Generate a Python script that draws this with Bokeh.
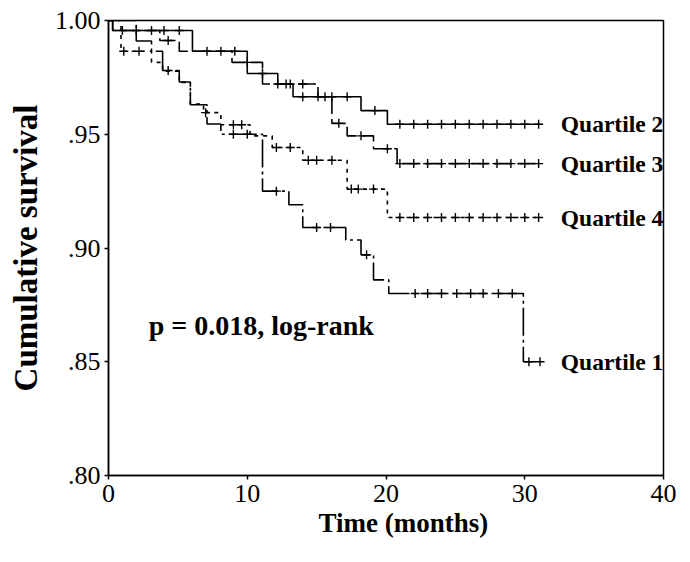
import numpy as np
from bokeh.plotting import figure
from bokeh.models import Range1d, Label, FixedTicker, Title
from bokeh.embed import file_html
from bokeh.resources import INLINE

# ---- data ----
q1_time = [0, 2.0, 3.1, 3.9, 5.1, 5.9, 7.1, 8.1, 11.1, 13.0, 14.0, 17.1, 18.2, 19.1, 20.2, 29.9, 31.1]
q1_surv = [1.000, 0.991, 0.9865, 0.978, 0.973, 0.963, 0.9545, 0.950, 0.925, 0.919, 0.909, 0.9035, 0.897, 0.886, 0.880, 0.850, 0.850]
q1_cens = [4.3, 9.0, 10.0, 12.1, 15.0, 16.0, 18.6, 22.1, 23.0, 24.0, 25.1, 26.1, 27.0, 28.1, 29.1, 30.3, 31.1]

q2_time = [0, 0.3, 6.05, 10.0, 12.2, 13.3, 18.2, 20.1, 31.1]
q2_surv = [1.000, 0.9956, 0.9865, 0.9767, 0.9721, 0.9665, 0.9604, 0.9544, 0.9544]
q2_cens = [1.0, 2.0, 3.1, 4.0, 5.1, 7.1, 8.1, 9.1, 11.1, 12.8, 14.0, 15.1, 16.1, 17.2, 19.2,
           21, 22, 23, 24, 25, 26, 27, 28, 29, 30, 31]

q3_time = [0, 0.3, 3.7, 5.1, 8.9, 11.1, 15.1, 16.1, 17.2, 19.1, 20.8, 31.1]
q3_surv = [1.000, 0.9956, 0.9912, 0.9865, 0.9816, 0.9721, 0.9665, 0.9548, 0.9493, 0.9436, 0.9371, 0.9371]
q3_cens = [4.3, 10.0, 12.2, 13.1, 14.0, 15.6, 16.6, 18.2, 20.1,
           21, 22, 23, 24, 25, 26, 27, 28, 29, 30, 31]

q4_time = [0, 0.9, 3.1, 3.9, 5.1, 5.9, 6.85, 8.1, 10.2, 11.8, 14.0, 17.2, 20.1, 31.1]
q4_surv = [1.000, 0.9865, 0.9816, 0.9777, 0.9728, 0.9633, 0.9595, 0.9542, 0.9493, 0.9442, 0.9386, 0.9259, 0.9134, 0.9134]
q4_cens = [1.1, 2.2, 7.0, 9.0, 9.6, 12.1, 13.1, 14.4, 15.0, 16.1, 17.5, 18.0, 19.1,
           21, 22, 23, 24, 25, 26, 27, 28, 29, 30, 31]

series = [
    ("Quartile 1", q1_time, q1_surv, q1_cens, "28 4 3 4"),
    ("Quartile 2", q2_time, q2_surv, q2_cens, "solid"),
    ("Quartile 3", q3_time, q3_surv, q3_cens, "18 5"),
    ("Quartile 4", q4_time, q4_surv, q4_cens, "4 5"),
]

x_ticks = [0, 10, 20, 30, 40]
y_ticks = [0.80, 0.85, 0.90, 0.95, 1.00]
y_tick_labels = [".80", ".85", ".90", ".95", "1.00"]

FONT = "Liberation Serif"

p = figure(width=683, height=554, x_range=Range1d(0, 40), y_range=Range1d(0.80, 1.00),
           output_backend="svg", toolbar_location=None,
           min_border_left=108, min_border_right=20, min_border_top=20, min_border_bottom=79)

p.xgrid.visible = False
p.ygrid.visible = False
p.outline_line_color = "black"
p.outline_line_width = 1.5
p.background_fill_color = "white"
p.border_fill_color = "white"

for name, t, s, c, dash in series:
    t = np.asarray(t, float)
    s = np.asarray(s, float)
    p.step(t, s, mode="after", line_color="black", line_width=1.6, line_dash=dash)
    c = np.asarray(c, float)
    idx = np.searchsorted(t, c, side="right") - 1
    p.scatter(c, s[idx], marker="cross", size=9, line_color="black", line_width=1.4)
    p.add_layout(Label(x=32.6, y=s[-1], text=name, text_font=FONT, text_font_size="23.5px",
                       text_font_style="bold", text_baseline="middle", text_color="black"))

p.add_layout(Label(x=2.9, y=0.866, text="p = 0.018, log-rank", text_font=FONT,
                   text_font_size="28px", text_font_style="bold", text_baseline="middle",
                   text_color="black"))

for ax in (p.xaxis[0], p.yaxis[0]):
    ax.axis_line_color = "black"
    ax.axis_line_width = 1.5
    ax.major_tick_in = 0
    ax.major_tick_out = 4
    ax.major_tick_line_width = 1.5
    ax.minor_tick_line_color = None
    ax.major_label_text_font = FONT
    ax.major_label_text_font_size = "26px"
    ax.major_label_text_color = "black"
    ax.axis_label_text_font = FONT
    ax.axis_label_text_font_style = "bold"
    ax.axis_label_text_color = "black"

p.xaxis.ticker = FixedTicker(ticks=x_ticks)
p.yaxis.ticker = FixedTicker(ticks=y_ticks)
p.yaxis.major_label_overrides = {v: lab for v, lab in zip(y_ticks, y_tick_labels)}
p.yaxis.axis_label = "Cumulative survival"
p.yaxis.axis_label_text_font_size = "33px"
p.xaxis.major_label_standoff = 5
p.yaxis.major_label_standoff = 4
p.yaxis.axis_label_standoff = 8

# x-axis title, a little right of the frame centre as in the reference
p.add_layout(Title(text="Time (months)", align="left", offset=210, standoff=3,
                   text_font=FONT, text_font_size="27px", text_font_style="bold",
                   text_color="black"), "below")

open("out.html", "w").write(file_html(p, INLINE))
